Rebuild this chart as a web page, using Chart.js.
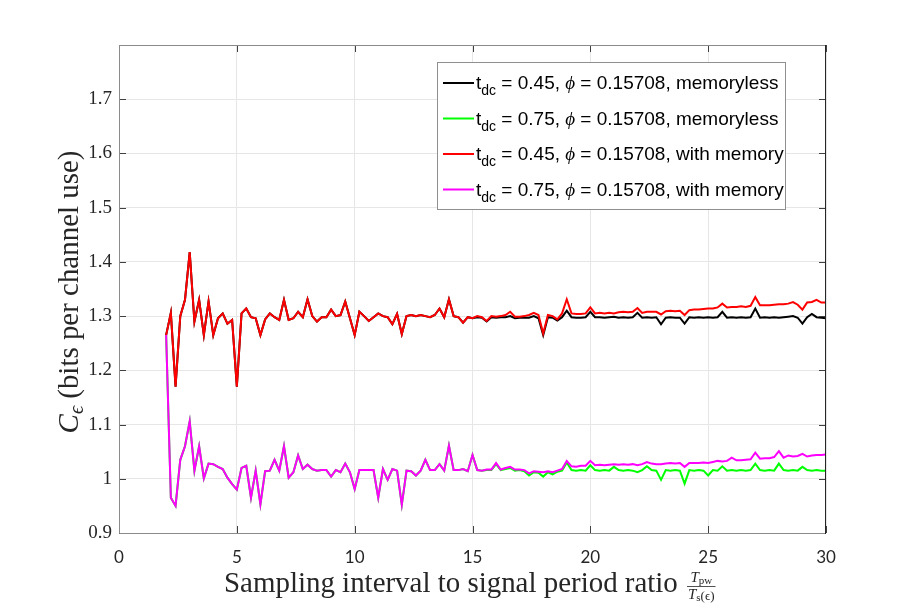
<!DOCTYPE html>
<html>
<head>
<meta charset="utf-8">
<script src="https://cdn.jsdelivr.net/npm/chart.js@4.4.0/dist/chart.umd.min.js"></script>
<style>
  html, body { margin: 0; padding: 0; background: #fff; }
  #wrap { width: 914px; height: 610px; position: relative; }
</style>
</head>
<body>
<div id="wrap"><canvas id="chart"></canvas></div>
<script>
// sampling grid: x = 2.0, 2.2, ... 30.0
const xStart = 2;
const xStep = 0.2;

// t_dc = 0.45, memoryless (black)
const memoryless045 = [
  1.265, 1.306, 1.170, 1.300, 1.330, 1.418, 1.290, 1.330, 1.265, 1.327,
  1.265, 1.296, 1.305, 1.286, 1.293, 1.170, 1.305, 1.314, 1.298, 1.296,
  1.265, 1.294, 1.305, 1.298, 1.293, 1.330, 1.293, 1.296, 1.308, 1.298,
  1.331, 1.300, 1.290, 1.298, 1.298, 1.312, 1.300, 1.302, 1.327, 1.296,
  1.265, 1.308, 1.300, 1.291, 1.298, 1.305, 1.300, 1.298, 1.285, 1.304,
  1.267, 1.300, 1.302, 1.300, 1.302, 1.300, 1.298, 1.302, 1.314, 1.298,
  1.331, 1.300, 1.298, 1.288, 1.298, 1.296, 1.298, 1.297, 1.290, 1.298,
  1.297, 1.298, 1.298, 1.300, 1.296, 1.297, 1.297, 1.297, 1.300, 1.296,
  1.265, 1.298, 1.297, 1.292, 1.298, 1.310, 1.298, 1.297, 1.297, 1.298,
  1.308, 1.298, 1.298, 1.297, 1.298, 1.299, 1.297, 1.298, 1.297, 1.298,
  1.306, 1.297, 1.298, 1.297, 1.298, 1.285, 1.297, 1.298, 1.297, 1.297,
  1.286, 1.298, 1.297, 1.298, 1.297, 1.298, 1.297, 1.298, 1.308, 1.297,
  1.298, 1.297, 1.298, 1.297, 1.298, 1.314, 1.297, 1.298, 1.297, 1.298,
  1.297, 1.298, 1.299, 1.300, 1.297, 1.286, 1.298, 1.304, 1.298, 1.297,
  1.296
];

// t_dc = 0.75, memoryless (green)
const memoryless075 = [
  1.265, 0.965, 0.950, 1.035, 1.060, 1.106, 1.015, 1.060, 1.001, 1.028,
  1.027, 1.022, 1.018, 1.002, 0.990, 0.980, 1.020, 1.024, 0.965, 1.015,
  0.953, 1.014, 1.015, 1.035, 1.015, 1.060, 1.002, 1.012, 1.043, 1.018,
  1.026, 1.018, 1.015, 1.016, 1.016, 1.004, 1.016, 1.012, 1.028, 1.012,
  0.981, 1.016, 1.016, 1.016, 1.016, 0.965, 1.018, 0.998, 1.018, 1.015,
  0.952, 1.015, 1.014, 1.006, 1.015, 1.035, 1.016, 1.016, 1.027, 1.015,
  1.061, 1.016, 1.016, 1.018, 1.014, 1.044, 1.016, 1.015, 1.016, 1.016,
  1.027, 1.016, 1.018, 1.020, 1.015, 1.016, 1.014, 1.006, 1.012, 1.011,
  1.004, 1.012, 1.008, 1.013, 1.015, 1.030, 1.016, 1.015, 1.016, 1.015,
  1.025, 1.016, 1.015, 1.016, 1.015, 1.022, 1.016, 1.015, 1.016, 1.015,
  1.012, 1.016, 1.023, 1.016, 1.015, 0.998, 1.016, 1.015, 1.016, 1.015,
  0.991, 1.016, 1.015, 1.016, 1.015, 1.006, 1.016, 1.015, 1.023, 1.015,
  1.016, 1.015, 1.016, 1.015, 1.016, 1.028, 1.016, 1.015, 1.016, 1.015,
  1.028, 1.016, 1.015, 1.016, 1.015, 1.022, 1.016, 1.015, 1.016, 1.015,
  1.015
];

// t_dc = 0.45, with memory (red)
const withMemory045 = [
  1.265, 1.306, 1.170, 1.300, 1.330, 1.418, 1.290, 1.330, 1.265, 1.327,
  1.265, 1.296, 1.305, 1.286, 1.293, 1.170, 1.305, 1.314, 1.298, 1.296,
  1.265, 1.294, 1.305, 1.298, 1.293, 1.330, 1.293, 1.296, 1.308, 1.298,
  1.331, 1.300, 1.290, 1.298, 1.298, 1.312, 1.300, 1.302, 1.327, 1.296,
  1.265, 1.308, 1.300, 1.291, 1.298, 1.305, 1.300, 1.298, 1.285, 1.304,
  1.267, 1.300, 1.302, 1.300, 1.302, 1.300, 1.298, 1.302, 1.314, 1.298,
  1.331, 1.300, 1.298, 1.288, 1.298, 1.296, 1.300, 1.298, 1.291, 1.300,
  1.299, 1.300, 1.302, 1.308, 1.299, 1.299, 1.300, 1.302, 1.306, 1.302,
  1.268, 1.302, 1.300, 1.294, 1.305, 1.331, 1.305, 1.304, 1.304, 1.305,
  1.316, 1.305, 1.306, 1.305, 1.306, 1.305, 1.307, 1.308, 1.307, 1.308,
  1.315, 1.306, 1.308, 1.308, 1.308, 1.303, 1.309, 1.310, 1.309, 1.310,
  1.302, 1.311, 1.312, 1.312, 1.313, 1.314, 1.314, 1.316, 1.323, 1.316,
  1.317, 1.317, 1.318, 1.317, 1.319, 1.335, 1.320, 1.320, 1.320, 1.321,
  1.322, 1.322, 1.323, 1.326, 1.321, 1.312, 1.325, 1.326, 1.330, 1.325,
  1.325
];

// t_dc = 0.75, with memory (magenta)
const withMemory075 = [
  1.265, 0.965, 0.950, 1.035, 1.060, 1.106, 1.015, 1.060, 1.001, 1.028,
  1.027, 1.022, 1.018, 1.002, 0.990, 0.980, 1.020, 1.024, 0.965, 1.015,
  0.953, 1.014, 1.015, 1.035, 1.015, 1.060, 1.002, 1.012, 1.043, 1.018,
  1.026, 1.018, 1.015, 1.016, 1.016, 1.004, 1.016, 1.012, 1.028, 1.012,
  0.981, 1.016, 1.016, 1.016, 1.016, 0.965, 1.018, 0.998, 1.018, 1.015,
  0.952, 1.015, 1.014, 1.006, 1.015, 1.035, 1.016, 1.016, 1.027, 1.015,
  1.061, 1.016, 1.016, 1.018, 1.014, 1.044, 1.016, 1.015, 1.017, 1.017,
  1.029, 1.017, 1.020, 1.022, 1.017, 1.017, 1.016, 1.010, 1.014, 1.013,
  1.012, 1.014, 1.012, 1.015, 1.018, 1.033, 1.023, 1.022, 1.024, 1.024,
  1.033, 1.025, 1.026, 1.025, 1.026, 1.027, 1.026, 1.027, 1.026, 1.027,
  1.025, 1.027, 1.031, 1.028, 1.027, 1.027, 1.028, 1.029, 1.028, 1.029,
  1.022, 1.029, 1.029, 1.029, 1.030, 1.029, 1.031, 1.033, 1.032, 1.033,
  1.039, 1.034, 1.034, 1.035, 1.036, 1.048, 1.037, 1.038, 1.038, 1.040,
  1.051, 1.039, 1.043, 1.041, 1.042, 1.046, 1.041, 1.043, 1.044, 1.044,
  1.045
];

const xTicks = [0, 5, 10, 15, 20, 25, 30];
const yTicks = [0.9, 1, 1.1, 1.2, 1.3, 1.4, 1.5, 1.6, 1.7];

const seriesColors = ['#000000', '#00ff00', '#ff0000', '#ff00ff'];
const tdcLabels = ['0.45', '0.75', '0.45', '0.75'];
const phiLabel = '0.15708';
const modeLabels = ['memoryless', 'memoryless', 'with memory', 'with memory'];

const xs = memoryless045.map((_, i) => +(xStart + i * xStep).toFixed(1));
const toPoints = arr => arr.map((v, i) => ({ x: xs[i], y: v }));

const SERIF = '"Liberation Serif", "DejaVu Serif", serif';
const SANS = '"Liberation Sans", Arial, sans-serif';

// draw a list of text runs left to right, returns total width
function drawRuns(ctx, runs, x, y, measureOnly) {
  let cx = x;
  runs.forEach(r => {
    ctx.font = r.font;
    if (!measureOnly) ctx.fillText(r.text, cx, y + (r.dy || 0));
    cx += ctx.measureText(r.text).width;
  });
  return cx - x;
}

const decorations = {
  id: 'decorations',
  afterDraw(chart) {
    const { ctx, chartArea: a, scales: { x, y } } = chart;
    ctx.save();

    // inward tick marks on all sides
    ctx.strokeStyle = '#404040';
    ctx.lineWidth = 1;
    ctx.beginPath();
    xTicks.forEach(v => {
      const px = Math.round(x.getPixelForValue(v)) + 0.5;
      ctx.moveTo(px, a.bottom); ctx.lineTo(px, a.bottom - 7);
      ctx.moveTo(px, a.top); ctx.lineTo(px, a.top + 7);
    });
    yTicks.forEach(v => {
      const py = Math.round(y.getPixelForValue(v)) + 0.5;
      ctx.moveTo(a.left, py); ctx.lineTo(a.left + 7, py);
      ctx.moveTo(a.right, py); ctx.lineTo(a.right - 7, py);
    });
    ctx.stroke();

    // axes box
    ctx.strokeStyle = '#8a8a8a';
    ctx.beginPath();
    ctx.moveTo(a.left + 0.5, a.top + 0.5);
    ctx.lineTo(a.right, a.top + 0.5);
    ctx.moveTo(a.left + 0.5, a.top);
    ctx.lineTo(a.left + 0.5, a.bottom + 0.5);
    ctx.lineTo(a.right, a.bottom + 0.5);
    ctx.stroke();
    ctx.strokeStyle = '#262626';
    ctx.beginPath();
    ctx.moveTo(a.right - 0.5, a.top);
    ctx.lineTo(a.right - 0.5, a.bottom + 1);
    ctx.stroke();

    // legend
    const lx = 437, ly = 62, lw = 348, lh = 147;
    ctx.fillStyle = '#ffffff';
    ctx.fillRect(lx, ly, lw, lh);
    ctx.strokeStyle = '#8f8f8f';
    ctx.strokeRect(lx + 0.5, ly + 0.5, lw, lh);
    ctx.textBaseline = 'alphabetic';
    seriesColors.forEach((c, i) => {
      const rowY = 83 + i * 35.5;
      ctx.strokeStyle = c;
      ctx.lineWidth = 2;
      ctx.beginPath();
      ctx.moveTo(443, rowY); ctx.lineTo(474, rowY);
      ctx.stroke();
      ctx.fillStyle = '#000000';
      drawRuns(ctx, [
        { text: 't', font: '19px ' + SANS },
        { text: 'dc', font: '14px ' + SANS, dy: 6 },
        { text: ' = ' + tdcLabels[i] + ', ', font: '19px ' + SANS },
        { text: 'ϕ', font: 'italic 19px ' + SERIF },
        { text: ' = ' + phiLabel + ', ' + modeLabels[i], font: '19px ' + SANS }
      ], 476, rowY + 6);
    });

    // x axis title
    ctx.fillStyle = '#262626';
    ctx.font = '22px ' + SERIF;
    const xText = 'Sampling interval to signal period ratio';
    const fs = 22 * 454 / ctx.measureText(xText).width;
    ctx.font = fs + 'px ' + SERIF;
    ctx.fillText(xText, 224, 592);
    // fraction T_pw / T_s(eps)
    const fx = 687, fy = 586;
    const num = [
      { text: 'T', font: 'italic 15px ' + SERIF },
      { text: 'pw', font: '11px ' + SERIF, dy: 2 }
    ];
    const den = [
      { text: 'T', font: 'italic 15px ' + SERIF },
      { text: 's', font: '11px ' + SERIF, dy: 2 },
      { text: '(ϵ)', font: '13px ' + SERIF, dy: 1 }
    ];
    const nw = drawRuns(ctx, num, 0, 0, true);
    const dw = drawRuns(ctx, den, 0, 0, true);
    const fw = Math.max(nw, dw) + 2;
    drawRuns(ctx, num, fx + (fw - nw) / 2, fy - 4);
    drawRuns(ctx, den, fx + (fw - dw) / 2, fy + 13);
    ctx.strokeStyle = '#262626';
    ctx.lineWidth = 0.8;
    ctx.beginPath();
    ctx.moveTo(fx, fy + 0.5); ctx.lineTo(fx + fw, fy + 0.5);
    ctx.stroke();

    // y axis title (rotated)
    const yRuns = [
      { text: 'C', font: 'italic ' + fs + 'px ' + SERIF },
      { text: 'ϵ', font: 'italic ' + (fs * 0.7) + 'px ' + SERIF, dy: 5 },
      { text: ' (bits per channel use)', font: fs + 'px ' + SERIF }
    ];
    const yw = drawRuns(ctx, yRuns, 0, 0, true);
    ctx.translate(78, 292);
    ctx.rotate(-Math.PI / 2);
    drawRuns(ctx, yRuns, -yw / 2, 0);

    ctx.restore();
  }
};

new Chart(document.getElementById('chart'), {
  type: 'line',
  data: {
    datasets: [
      { data: toPoints(memoryless045), borderColor: seriesColors[0], order: 4 },
      { data: toPoints(memoryless075), borderColor: seriesColors[1], order: 3 },
      { data: toPoints(withMemory045), borderColor: seriesColors[2], order: 2 },
      { data: toPoints(withMemory075), borderColor: seriesColors[3], order: 1 }
    ]
  },
  options: {
    responsive: true,
    maintainAspectRatio: false,
    animation: false,
    layout: { padding: { top: 45, right: 88, left: 0, bottom: 0 } },
    elements: {
      point: { radius: 0 },
      line: { borderWidth: 2, tension: 0 }
    },
    plugins: { legend: { display: false }, tooltip: { enabled: false } },
    scales: {
      x: {
        type: 'linear',
        min: 0, max: 30,
        afterBuildTicks: s => { s.ticks = xTicks.map(v => ({ value: v })); },
        afterFit: s => { s.height = 77; },
        ticks: { font: { family: 'Lato', size: 17 }, color: '#262626', padding: 14, maxRotation: 0 },
        grid: { color: '#e6e6e6', drawTicks: false },
        border: { display: false }
      },
      y: {
        min: 0.9, max: 1.8,
        afterBuildTicks: s => { s.ticks = yTicks.concat([1.8]).map(v => ({ value: v })); },
        afterFit: s => { s.width = 119; },
        ticks: {
          font: { family: 'Liberation Serif', size: 19 },
          color: '#262626',
          padding: 7,
          callback: v => v > 1.75 ? '' : String(Math.round(v * 10) / 10)
        },
        grid: { color: '#e6e6e6', drawTicks: false },
        border: { display: false }
      }
    }
  },
  plugins: [decorations]
});
</script>
</body>
</html>
